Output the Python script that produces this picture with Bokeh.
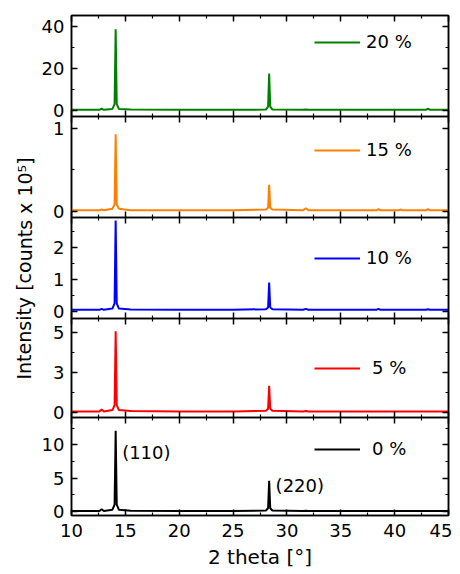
from bokeh.plotting import figure
from bokeh.layouts import column, row
from bokeh.models import Range1d, LinearAxis, Legend, LegendItem, Label, FixedTicker
from bokeh.embed import file_html
from bokeh.resources import INLINE

# ---- data ----
two_theta = [10.0, 12.6, 12.8, 13.0, 13.8, 14.0, 14.1, 14.2, 14.4, 15.5, 20.0, 25.0,
             28.05, 28.25, 28.35, 28.45, 28.65, 31.5, 31.75, 32.0, 38.3, 38.5, 38.7,
             40.35, 40.55, 40.75, 42.9, 43.1, 43.3, 45.0]
int_20 = [0.3, 0.3, 0.9, 0.3, 0.7, 3.0, 38.6, 3.0, 0.7, 0.4, 0.3, 0.3,
          0.4, 1.8, 17.6, 1.8, 0.4, 0.3, 0.4, 0.3, 0.3, 0.3, 0.3,
          0.3, 0.3, 0.3, 0.3, 0.8, 0.3, 0.3]
int_15 = [0.01, 0.01, 0.02, 0.01, 0.03, 0.08, 0.93, 0.08, 0.03, 0.01, 0.01, 0.01,
          0.02, 0.04, 0.32, 0.04, 0.02, 0.01, 0.035, 0.01, 0.01, 0.025, 0.01,
          0.01, 0.02, 0.01, 0.01, 0.025, 0.01, 0.01]
int_10 = [0.05, 0.05, 0.08, 0.05, 0.09, 0.25, 2.83, 0.25, 0.09, 0.06, 0.05, 0.05,
          0.07, 0.12, 0.90, 0.12, 0.07, 0.05, 0.08, 0.05, 0.05, 0.08, 0.05,
          0.05, 0.05, 0.05, 0.05, 0.07, 0.05, 0.05]
int_5 = [0.05, 0.05, 0.18, 0.05, 0.14, 0.45, 5.1, 0.45, 0.14, 0.08, 0.05, 0.05,
         0.09, 0.22, 1.66, 0.22, 0.09, 0.05, 0.08, 0.05, 0.05, 0.05, 0.05,
         0.05, 0.05, 0.05, 0.05, 0.05, 0.05, 0.05]
int_0 = [0.05, 0.05, 0.30, 0.05, 0.25, 1.0, 12.1, 1.0, 0.25, 0.10, 0.05, 0.05,
         0.12, 0.45, 4.6, 0.45, 0.12, 0.05, 0.10, 0.05, 0.05, 0.05, 0.05,
         0.05, 0.05, 0.05, 0.05, 0.05, 0.05, 0.05]
series = [int_20, int_15, int_10, int_5, int_0]
labels = ["20 %", "15 %", "10 %", "5 %", "0 %"]
colors = ["#008000", "#ff8000", "#0000ff", "#ff0000", "#000000"]

y_ranges = [(-2.9, 45.2), (-0.077, 1.145), (-0.22, 2.92), (-0.33, 5.9), (-0.63, 14.1)]
y_major = [[0, 20, 40], [0, 1], [0, 1, 2], [0, 2.5, 5], [0, 5, 10]]
y_minor = [[10, 30], [0.5], [0.5, 1.5, 2.5], [1.25, 3.75], [2.5, 7.5, 12.5]]
y_overrides = [{}, {}, {}, {2.5: "3"}, {}]
x_major = [10, 15, 20, 25, 30, 35, 40, 45]
x_minor = [12.5, 17.5, 22.5, 27.5, 32.5, 37.5, 42.5]

peak_texts = ["(110)", "(220)"]
peak_x = [14.7, 28.95]
peak_y = [8.8, 3.95]

# ---- layout / style ----
FONT = "DejaVu Sans"
frame_h = [101, 101, 101, 99, 100]
legend_offset = [27, 34, 41, 50, 34]   # px from frame top to legend line
legend_standoff = [6, 6, 6, 12, 12]
LEFT_W = 38
BORDER_L = 33
PANEL_W = 414
TOP_B = 15
BOTTOM_B = 54
OVERLAP = 12


def style_axis(ax, major, minor, show_labels, overrides=None):
    ax.ticker = FixedTicker(ticks=major, minor_ticks=minor)
    ax.major_tick_in = 6
    ax.major_tick_out = 0
    ax.minor_tick_in = 3
    ax.minor_tick_out = 0
    ax.axis_line_width = 1.5
    ax.major_tick_line_width = 1.5
    ax.minor_tick_line_width = 1.2
    ax.axis_line_color = "black"
    ax.major_tick_line_color = "black"
    ax.minor_tick_line_color = "black"
    if show_labels:
        ax.major_label_text_font = FONT
        ax.major_label_text_font_size = "18px"
        ax.major_label_text_color = "black"
        ax.major_label_standoff = 7
        if overrides:
            ax.major_label_overrides = overrides
    else:
        ax.major_label_text_font_size = "0px"
        ax.major_label_text_alpha = 0
        ax.major_label_text_color = None
        ax.major_label_standoff = 0
        ax.axis_label_standoff = 0


panels = []
xr = Range1d(10, 45)
n = len(series)
for i in range(n):
    first = i == 0
    last = i == n - 1
    bb = BOTTOM_B if last else OVERLAP
    h = frame_h[i] + (TOP_B if first else 0) + bb
    p = figure(width=PANEL_W, height=h, x_range=xr, y_range=Range1d(*y_ranges[i]),
               output_backend="svg", toolbar_location=None,
               min_border_left=BORDER_L, min_border_right=4,
               min_border_top=TOP_B if first else 0,
               min_border_bottom=bb)
    if not first:
        p.margin = (-OVERLAP, 0, 0, 0)
    p.grid.visible = False
    p.outline_line_color = "black"
    p.outline_line_width = 1.5
    p.background_fill_color = "white"
    p.border_fill_alpha = 0

    style_axis(p.yaxis[0], y_major[i], y_minor[i], True, y_overrides[i])
    style_axis(p.xaxis[0], x_major, x_minor, last)
    if last:
        p.xaxis[0].axis_label = "2 theta [°]"
        p.xaxis[0].axis_label_text_font = FONT
        p.xaxis[0].axis_label_text_font_size = "20px"
        p.xaxis[0].axis_label_text_font_style = "normal"
        p.xaxis[0].axis_label_text_color = "black"
        p.xaxis[0].axis_label_standoff = 5
        p.xaxis[0].major_label_standoff = 8

    ra = LinearAxis()
    style_axis(ra, y_major[i], y_minor[i], False)
    p.add_layout(ra, "right")
    ta = LinearAxis()
    style_axis(ta, x_major, x_minor, False)
    p.add_layout(ta, "above")

    r = p.line(two_theta, series[i], line_color=colors[i], line_width=2)

    leg = Legend(items=[LegendItem(label=labels[i], renderers=[r])],
                 location=(243, frame_h[i] - legend_offset[i] - 10),
                 glyph_width=46, glyph_height=20, label_height=20,
                 label_standoff=legend_standoff[i], padding=0, margin=0, spacing=0,
                 border_line_alpha=0, background_fill_alpha=0,
                 label_text_font=FONT, label_text_font_size="18px",
                 label_text_color="black")
    p.add_layout(leg, "center")

    if last:
        for t, px, py in zip(peak_texts, peak_x, peak_y):
            p.add_layout(Label(x=px, y=py, text=t, text_font=FONT,
                               text_font_size="18px", text_baseline="middle",
                               text_align="left", text_color="black"))
    panels.append(p)

total_h = sum(frame_h) + TOP_B + BOTTOM_B
lab = figure(width=LEFT_W, height=total_h, output_backend="svg", toolbar_location=None,
             x_axis_location=None, y_axis_location=None,
             min_border=0, min_border_left=0, min_border_right=0,
             min_border_top=0, min_border_bottom=0)
lab.outline_line_color = None
lab.grid.visible = False
lab.add_layout(Label(x=24, y=total_h - 268, x_units="screen", y_units="screen",
                     text="Intensity [counts x 10⁵]", angle=1.5707963,
                     text_align="center", text_baseline="middle",
                     text_font=FONT, text_font_size="19px", text_color="black"))

layout = row(lab, column(*panels, spacing=0), spacing=0)

open("out.html", "w").write(file_html(layout, INLINE))
